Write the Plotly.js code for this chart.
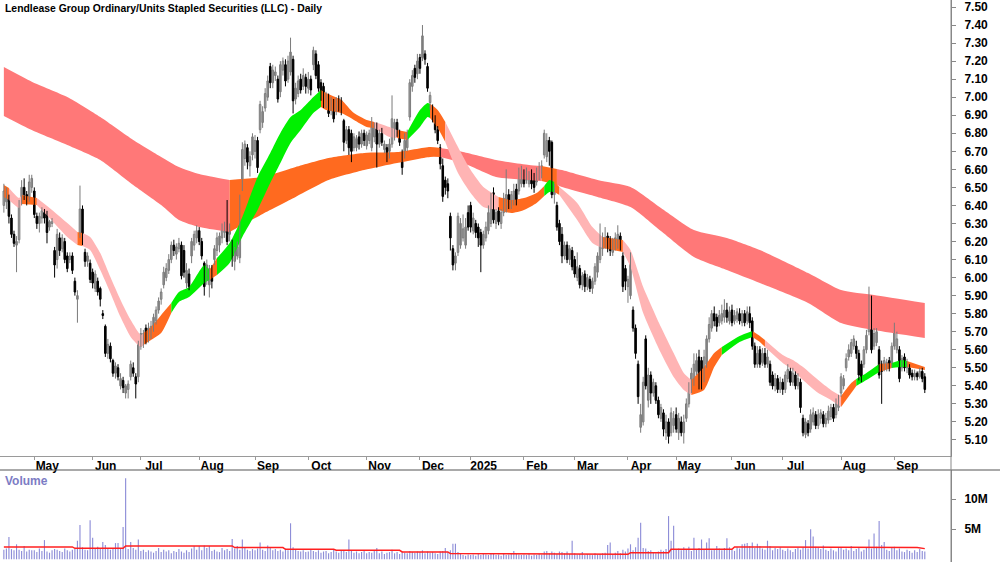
<!DOCTYPE html>
<html><head><meta charset="utf-8">
<script src="https://cdn.plot.ly/plotly-3.0.1.min.js"></script>
<style>html,body{margin:0;padding:0;background:#fff}#chart{width:1000px;height:562px}</style>
</head><body><div id="chart"></div>
<script>
// ---------- categories: trading days ----------
const startDate = '2024-04-12';
const endDate = '2025-09-17';
const holidays = ['2024-04-25','2024-06-10','2024-12-25','2024-12-26','2025-01-01','2025-01-27','2025-04-18','2025-04-21','2025-04-25','2025-06-09'];
const monthNames = ['Jan','Feb','Mar','Apr','May','Jun','Jul','Aug','Sep','Oct','Nov','Dec'];
const title = 'Lendlease Group Ordinary/Units Stapled Securities (LLC) - Daily';

// ---------- candles [open, high, low, close] by month ----------
const apr24 = [[6.40,6.52,6.36,6.48],[6.42,6.50,6.38,6.47],[6.44,6.46,6.30,6.34],[6.33,6.35,6.22,6.24],[6.24,6.26,6.17,6.19],[6.18,6.23,6.03,6.20],[6.21,6.43,6.19,6.41],[6.42,6.54,6.40,6.50],[6.50,6.55,6.43,6.46],[6.46,6.48,6.40,6.42],[6.44,6.57,6.42,6.53],[6.50,6.57,6.47,6.55]];
const may24 = [[6.48,6.50,6.33,6.35],[6.34,6.36,6.27,6.30],[6.30,6.36,6.25,6.34],[6.33,6.39,6.30,6.37],[6.36,6.38,6.30,6.33],[6.36,6.37,6.19,6.25],[6.28,6.32,6.26,6.31],[6.30,6.33,6.28,6.31],[6.15,6.17,6.00,6.07],[6.10,6.27,6.05,6.24],[6.22,6.25,6.12,6.15],[6.16,6.24,6.14,6.22],[6.20,6.22,6.08,6.10],[6.12,6.14,6.03,6.05],[6.10,6.14,6.08,6.12],[6.12,6.14,6.02,6.04],[5.98,6.00,5.90,5.92],[5.88,5.93,5.75,5.90],[6.25,6.51,6.22,6.38],[6.38,6.40,6.18,6.20],[6.14,6.16,6.06,6.09],[6.09,6.14,6.06,6.12],[6.08,6.10,5.97,5.99]];
const jun24 = [[6.03,6.05,5.94,5.97],[5.94,6.04,5.92,6.02],[5.98,6.00,5.90,5.92],[5.94,5.95,5.84,5.88],[5.80,5.82,5.77,5.79],[5.73,5.74,5.56,5.58],[5.58,5.66,5.55,5.63],[5.62,5.64,5.53,5.55],[5.54,5.55,5.45,5.47],[5.47,5.53,5.44,5.51],[5.50,5.52,5.43,5.45],[5.40,5.47,5.38,5.44],[5.43,5.45,5.36,5.39],[5.36,5.41,5.33,5.40],[5.38,5.43,5.33,5.41],[5.45,5.54,5.43,5.52],[5.50,5.53,5.45,5.47],[5.45,5.47,5.33,5.41],[5.45,5.65,5.42,5.63]];
const jul24 = [[5.62,5.72,5.60,5.69],[5.64,5.71,5.61,5.69],[5.72,5.74,5.63,5.66],[5.66,5.75,5.64,5.72],[5.68,5.76,5.66,5.73],[5.72,5.80,5.70,5.78],[5.76,5.84,5.74,5.82],[5.82,5.89,5.80,5.87],[5.88,5.94,5.85,5.92],[5.96,6.06,5.94,6.03],[6.00,6.08,5.98,6.05],[6.04,6.13,6.02,6.10],[6.10,6.20,6.08,6.18],[6.18,6.21,6.12,6.15],[6.13,6.19,6.10,6.17],[6.16,6.22,6.14,6.19],[6.18,6.20,5.99,6.01],[6.15,6.18,6.00,6.03],[5.97,6.08,5.94,6.04],[6.02,6.05,5.93,5.95],[6.12,6.22,6.08,6.20],[6.18,6.26,6.15,6.24],[6.22,6.29,6.19,6.26]];
const aug24 = [[6.26,6.28,6.18,6.20],[6.20,6.22,6.10,6.12],[6.08,6.09,5.90,5.95],[6.00,6.10,5.96,6.07],[5.96,6.07,5.89,6.05],[6.04,6.07,5.94,5.98],[6.10,6.18,6.07,6.16],[6.15,6.25,6.12,6.22],[6.18,6.25,6.14,6.23],[6.22,6.30,6.19,6.27],[6.25,6.31,6.22,6.28],[6.34,6.43,6.18,6.20],[6.24,6.30,6.20,6.28],[6.19,6.21,6.06,6.12],[6.09,6.17,6.04,6.15],[6.12,6.20,6.10,6.17],[6.11,6.46,6.08,6.44],[6.50,6.75,6.48,6.71],[6.66,6.76,6.62,6.74],[6.72,6.74,6.60,6.64],[6.62,6.70,6.56,6.67],[6.68,6.80,6.65,6.78]];
const sep24 = [[6.70,6.79,6.66,6.76],[6.76,6.78,6.58,6.61],[6.82,6.98,6.80,6.96],[6.86,6.95,6.83,6.92],[6.94,7.05,6.92,7.02],[7.00,7.12,6.98,7.09],[7.17,7.19,7.05,7.08],[7.08,7.18,7.05,7.15],[7.12,7.17,7.09,7.14],[7.10,7.12,6.97,6.99],[7.03,7.20,7.00,7.18],[7.15,7.22,7.12,7.20],[7.18,7.21,7.06,7.09],[7.10,7.23,7.08,7.20],[7.14,7.33,7.12,7.25],[7.21,7.23,6.91,6.98],[6.99,7.08,6.96,7.05],[7.02,7.12,7.00,7.09],[7.10,7.13,7.02,7.04],[7.06,7.16,7.04,7.12],[7.11,7.13,7.02,7.06]];
const oct24 = [[7.05,7.14,7.02,7.10],[7.10,7.12,7.01,7.04],[7.18,7.28,7.15,7.26],[7.24,7.26,7.10,7.12],[7.18,7.20,7.03,7.05],[7.08,7.10,6.98,7.00],[7.06,7.08,6.94,6.96],[6.96,7.03,6.94,7.01],[7.00,7.02,6.89,6.91],[6.93,7.00,6.90,6.98],[6.97,6.99,6.86,6.88],[6.92,7.00,6.90,6.98],[6.99,7.01,6.92,6.94],[6.98,7.00,6.90,6.92],[6.87,6.88,6.70,6.75],[6.76,6.84,6.74,6.82],[6.82,6.84,6.68,6.72],[6.80,6.82,6.64,6.70],[6.72,6.80,6.70,6.78],[6.72,6.79,6.70,6.77],[6.78,6.81,6.71,6.74],[6.74,6.82,6.72,6.80],[6.80,6.82,6.73,6.76]];
const nov24 = [[6.73,6.81,6.71,6.79],[6.76,6.82,6.74,6.80],[6.72,6.89,6.70,6.85],[6.78,6.86,6.75,6.84],[6.84,6.86,6.61,6.74],[6.74,6.82,6.72,6.80],[6.80,6.83,6.73,6.75],[6.71,6.76,6.69,6.74],[6.72,6.74,6.64,6.67],[6.70,6.77,6.66,6.74],[6.74,7.01,6.72,6.88],[6.80,6.88,6.76,6.86],[6.86,6.88,6.78,6.80],[6.80,6.82,6.73,6.75],[6.69,6.71,6.57,6.61],[6.68,6.80,6.66,6.76],[6.72,6.82,6.70,6.80],[6.89,7.10,6.87,7.08],[7.06,7.15,7.03,7.12],[7.16,7.18,7.08,7.11],[7.13,7.24,7.10,7.20]];
const dec24 = [[7.22,7.24,7.13,7.16],[7.22,7.40,7.20,7.34],[7.24,7.26,7.18,7.21],[7.17,7.19,7.03,7.05],[6.97,7.03,6.93,7.01],[6.94,6.96,6.86,6.88],[6.88,6.90,6.80,6.82],[6.82,6.84,6.74,6.76],[6.72,6.74,6.60,6.63],[6.62,6.66,6.42,6.45],[6.54,6.56,6.46,6.50],[6.52,6.55,6.44,6.48],[6.34,6.36,6.15,6.22],[6.16,6.18,6.04,6.07],[6.08,6.14,6.04,6.12],[6.14,6.36,6.12,6.34],[6.18,6.33,6.16,6.30],[6.22,6.35,6.20,6.27],[6.18,6.33,6.16,6.28],[6.36,6.40,6.26,6.28]];
const jan25 = [[6.40,6.42,6.25,6.28],[6.26,6.36,6.24,6.33],[6.30,6.32,6.22,6.25],[6.28,6.30,6.17,6.22],[6.25,6.27,6.03,6.18],[6.18,6.26,6.16,6.24],[6.22,6.31,6.20,6.28],[6.26,6.40,6.24,6.36],[6.30,6.47,6.28,6.42],[6.47,6.50,6.30,6.32],[6.30,6.38,6.27,6.36],[6.37,6.39,6.29,6.31],[6.30,6.38,6.27,6.36],[6.36,6.47,6.34,6.44],[6.38,6.60,6.36,6.46],[6.46,6.49,6.38,6.40],[6.40,6.48,6.38,6.46],[6.42,6.52,6.40,6.48],[6.49,6.52,6.40,6.42],[6.48,6.61,6.46,6.58],[6.52,6.62,6.50,6.58]];
const feb25 = [[6.58,6.60,6.50,6.52],[6.54,6.61,6.52,6.59],[6.52,6.59,6.50,6.57],[6.58,6.60,6.49,6.52],[6.56,6.58,6.47,6.50],[6.53,6.61,6.51,6.58],[6.56,6.64,6.54,6.61],[6.58,6.65,6.55,6.62],[6.68,6.82,6.66,6.80],[6.67,6.80,6.64,6.76],[6.76,6.78,6.62,6.70],[6.75,6.76,6.44,6.46],[6.46,6.52,6.41,6.49],[6.40,6.42,6.26,6.28],[6.30,6.32,6.18,6.20],[6.24,6.28,6.08,6.12],[6.12,6.20,6.10,6.18],[6.18,6.20,6.08,6.10],[6.10,6.18,6.07,6.16],[6.15,6.17,6.04,6.06]];
const mar25 = [[6.10,6.12,6.00,6.02],[6.00,6.14,5.98,6.06],[6.05,6.07,5.94,5.96],[5.96,6.03,5.93,6.01],[6.02,6.04,5.92,5.95],[5.95,6.02,5.93,6.00],[5.99,6.01,5.92,5.94],[5.94,6.00,5.91,5.98],[5.98,6.08,5.96,6.06],[6.03,6.14,6.00,6.12],[6.10,6.30,6.08,6.19],[6.16,6.25,6.12,6.22],[6.18,6.28,6.16,6.22],[6.23,6.25,6.14,6.17],[6.21,6.23,6.12,6.15],[6.14,6.22,6.12,6.20],[6.18,6.25,6.15,6.22],[6.18,6.29,6.16,6.24],[6.23,6.25,6.15,6.18],[6.12,6.14,5.92,5.95],[6.05,6.07,5.93,5.98]];
const apr25 = [[5.95,6.01,5.86,5.99],[5.90,6.14,5.88,6.12],[5.82,5.84,5.70,5.72],[5.72,5.74,5.55,5.58],[5.52,5.54,5.30,5.34],[5.17,5.30,5.14,5.24],[5.20,5.45,5.18,5.42],[5.66,5.68,5.38,5.40],[5.32,5.50,5.28,5.46],[5.46,5.48,5.30,5.36],[5.36,5.44,5.34,5.42],[5.40,5.42,5.30,5.32],[5.32,5.34,5.22,5.24],[5.22,5.30,5.20,5.28],[5.25,5.27,5.12,5.16],[5.14,5.24,5.10,5.20],[5.20,5.22,5.08,5.12],[5.14,5.28,5.12,5.25],[5.18,5.26,5.14,5.22]];
const may25 = [[5.24,5.28,5.14,5.16],[5.14,5.25,5.10,5.22],[5.20,5.23,5.12,5.14],[5.14,5.24,5.08,5.20],[5.22,5.33,5.20,5.30],[5.30,5.42,5.28,5.40],[5.38,5.50,5.36,5.47],[5.42,5.58,5.40,5.52],[5.48,5.58,5.46,5.54],[5.56,5.60,5.38,5.42],[5.54,5.56,5.38,5.40],[5.44,5.60,5.42,5.56],[5.52,5.68,5.50,5.66],[5.66,5.78,5.64,5.74],[5.72,5.82,5.70,5.80],[5.80,5.84,5.73,5.76],[5.78,5.80,5.70,5.73],[5.75,5.82,5.73,5.79],[5.76,5.85,5.74,5.80],[5.78,5.88,5.75,5.82],[5.82,5.86,5.75,5.78],[5.76,5.84,5.74,5.81]];
const jun25 = [[5.82,5.85,5.73,5.75],[5.76,5.82,5.74,5.79],[5.77,5.83,5.75,5.81],[5.80,5.83,5.74,5.76],[5.75,5.82,5.73,5.80],[5.80,5.82,5.73,5.75],[5.76,5.84,5.74,5.81],[5.80,5.84,5.72,5.75],[5.76,5.78,5.60,5.62],[5.62,5.64,5.50,5.52],[5.52,5.62,5.50,5.58],[5.60,5.62,5.50,5.52],[5.53,5.61,5.51,5.58],[5.58,5.61,5.50,5.52],[5.52,5.60,5.50,5.56],[5.52,5.54,5.40,5.42],[5.46,5.48,5.38,5.40],[5.40,5.47,5.37,5.44],[5.44,5.46,5.36,5.38],[5.38,5.45,5.36,5.42]];
const jul25 = [[5.42,5.44,5.35,5.38],[5.38,5.48,5.36,5.46],[5.44,5.52,5.42,5.49],[5.48,5.50,5.40,5.42],[5.42,5.50,5.40,5.47],[5.46,5.48,5.38,5.40],[5.40,5.47,5.38,5.44],[5.42,5.44,5.25,5.28],[5.22,5.24,5.12,5.14],[5.13,5.22,5.11,5.20],[5.19,5.21,5.12,5.14],[5.16,5.27,5.14,5.24],[5.20,5.28,5.18,5.25],[5.24,5.26,5.16,5.18],[5.18,5.27,5.16,5.24],[5.22,5.27,5.19,5.25],[5.24,5.26,5.17,5.19],[5.19,5.25,5.17,5.22],[5.21,5.29,5.19,5.26],[5.23,5.30,5.21,5.28],[5.28,5.30,5.20,5.22],[5.24,5.33,5.22,5.30],[5.28,5.35,5.26,5.32]];
const aug25 = [[5.36,5.47,5.34,5.45],[5.40,5.46,5.38,5.44],[5.50,5.58,5.48,5.55],[5.56,5.63,5.54,5.60],[5.58,5.66,5.56,5.64],[5.62,5.68,5.60,5.66],[5.62,5.65,5.55,5.58],[5.58,5.60,5.43,5.46],[5.52,5.54,5.42,5.44],[5.52,5.62,5.50,5.60],[5.60,5.71,5.58,5.68],[5.70,5.95,5.68,5.90],[5.88,5.90,5.58,5.60],[5.62,5.72,5.60,5.69],[5.64,5.72,5.62,5.70],[5.60,5.62,5.44,5.46],[5.52,5.54,5.30,5.48],[5.50,5.56,5.48,5.54],[5.50,5.55,5.48,5.53],[5.54,5.56,5.48,5.50],[5.52,5.64,5.50,5.62]];
const sep25 = [[5.62,5.75,5.60,5.72],[5.60,5.70,5.58,5.66],[5.60,5.62,5.42,5.44],[5.50,5.57,5.48,5.55],[5.56,5.58,5.48,5.50],[5.50,5.55,5.47,5.53],[5.50,5.52,5.44,5.46],[5.47,5.49,5.43,5.45],[5.45,5.49,5.43,5.47],[5.47,5.48,5.43,5.45],[5.45,5.50,5.44,5.48],[5.48,5.50,5.42,5.44],[5.45,5.47,5.36,5.38]];

// ---------- volume (millions) by month ----------
const volApr24 = [1.6,1.8,3.7,1.7,1.5,2.5,1.6,1.4,2.2,1.3,1.6,1.5];
const volMay24 = [1.5,1.2,1.8,1.4,3.2,1.3,1.1,1.5,1.7,1.6,1.4,1.2,1.8,1.5,1.3,1.6,1.7,3.1,5.7,2.0,1.6,1.5,6.5];
const volJun24 = [3.6,1.9,2.1,1.7,2.9,2.4,1.8,1.6,1.9,2.7,2.7,1.8,5.4,13.5,1.7,2.9,1.9,1.6,3.3];
const volJul24 = [1.4,1.6,1.2,1.5,1.3,1.1,1.4,1.9,1.2,1.6,1.3,1.5,1.0,1.4,1.2,1.7,1.3,1.1,1.5,1.2,1.8,2.2,1.6];
const volAug24 = [2.2,1.5,2.3,1.9,2.2,1.4,1.6,1.3,1.2,1.9,1.5,1.7,1.4,3.4,1.8,2.2,1.6,3.3,2.0,1.6,1.4,1.7];
const volSep24 = [1.5,1.8,2.8,1.6,1.4,2.3,1.9,1.5,1.7,1.4,1.6,1.3,1.8,1.5,6.0,2.0,1.6,1.4,1.3,1.5,1.2];
const volOct24 = [1.3,1.6,1.4,1.2,1.5,1.1,1.3,1.4,1.0,1.2,1.6,1.3,1.1,1.4,1.5,1.2,3.3,1.4,1.1,1.3,1.0,1.2,1.4];
const volNov24 = [1.0,1.2,1.1,1.5,1.9,1.0,1.3,0.9,1.1,1.2,1.6,1.0,1.2,0.9,1.3,1.1,1.0,1.4,1.2,1.1,1.3];
const volDec24 = [1.2,1.5,1.0,1.3,1.1,1.2,1.0,0.9,1.3,1.4,1.9,1.2,1.5,2.6,2.6,1.2,0.9,0.7,0.6,0.8];
const volJan25 = [0.7,0.8,0.6,0.9,0.7,1.0,0.8,0.7,0.9,1.0,0.7,0.8,0.6,0.9,0.7,0.8,1.0,1.4,0.9,0.8,0.7];
const volFeb25 = [0.8,0.7,0.9,0.6,0.8,0.7,0.9,0.8,1.3,1.4,1.0,1.3,1.1,0.9,1.3,1.2,1.0,1.3,0.9,3.1];
const volMar25 = [1.0,0.8,0.9,1.2,0.7,0.9,0.8,0.7,1.0,0.8,0.9,1.0,1.1,2.4,2.8,0.9,1.1,1.4,1.0,1.6,1.3];
const volApr25 = [1.8,2.5,1.5,2.0,3.6,6.1,1.9,1.8,1.4,1.5,1.2,1.0,1.3,1.6,1.4,1.7,7.2,3.1,5.6];
const volMay25 = [1.6,1.8,1.5,2.0,1.7,2.1,1.4,3.6,1.6,1.9,3.3,1.7,2.8,3.5,1.5,1.6,2.2,1.8,1.5,1.9,3.5,2.0];
const volJun25 = [1.6,1.4,2.0,1.8,2.5,2.6,2.7,2.2,2.8,1.9,2.6,2.2,1.8,1.6,3.1,2.2,1.5,1.9,1.7,2.0];
const volJul25 = [1.6,1.4,1.8,1.5,1.2,1.7,1.9,1.6,2.0,3.2,1.8,5.0,3.8,2.1,1.9,1.7,2.3,1.6,1.4,1.8,1.5,1.3,1.9];
const volAug25 = [2.0,1.6,1.8,1.5,2.2,1.4,1.7,1.9,1.3,1.6,2.0,3.3,1.8,4.3,2.1,6.4,2.4,2.9,1.6,1.4,1.9];
const volSep25 = [2.1,1.5,1.8,1.3,1.2,1.6,1.4,1.1,1.5,1.2,1.7,1.4,1.3];

// volume moving average: [day index, millions]
const volAvg = [[0,2.06],[27,2.06],[28,1.83],[47,1.83],[48,2.22],[90,2.22],[91,1.95],[110,1.95],[111,1.67],[130,1.67],[131,1.5],[156,1.5],[157,1.22],[175,1.22],[176,0.95],[196,0.95],[197,0.83],[246,0.83],[247,1.11],[262,1.11],[263,1.67],[287,1.67],[288,2.06],[327,2.06],[328,1.95],[360,1.95],[363,1.78]];

// ---------- ribbons: [day index, upper, lower] ----------
const slowBand = [[0,7.167,6.896],[11,7.086,6.818],[25,7.001,6.735],[38,6.890,6.652],[51,6.763,6.513],[62,6.669,6.402],[69,6.613,6.319],[77,6.574,6.280],[89,6.541,6.253],[102,6.558,6.353],[115,6.613,6.447],[128,6.663,6.541],[142,6.691,6.596],[155,6.696,6.635],[168,6.724,6.669],[172,6.718,6.669],[181,6.696,6.635],[194,6.652,6.558],[207,6.624,6.541],[212,6.619,6.535],[218,6.602,6.513],[220,6.596,6.502],[234,6.541,6.447],[247,6.502,6.391],[259,6.386,6.258],[272,6.264,6.114],[285,6.220,6.042],[298,6.153,5.970],[317,6.025,5.859],[330,5.931,5.748],[343,5.903,5.709],[363,5.859,5.665]];
const slowStates = [[0,89,'down'],[89,172,'up'],[172,212,'down'],[212,218,'up'],[218,363,'down']];

const fastBand = [[0,6.513,6.447],[2,6.497,6.430],[6,6.441,6.386],[7,6.458,6.408],[13,6.441,6.402],[18,6.386,6.330],[25,6.303,6.225],[29,6.253,6.181],[31,6.247,6.175],[34,6.225,6.153],[38,6.136,6.042],[42,6.003,5.915],[46,5.876,5.781],[50,5.765,5.671],[54,5.682,5.615],[55,5.693,5.626],[58,5.726,5.654],[62,5.793,5.693],[66,5.859,5.804],[69,5.920,5.865],[73,5.948,5.892],[79,6.070,5.970],[81,6.042,5.987],[84,6.108,6.014],[89,6.192,6.081],[94,6.336,6.225],[100,6.558,6.375],[105,6.691,6.524],[109,6.802,6.635],[113,6.890,6.746],[117,6.929,6.818],[122,7.001,6.912],[125,7.040,6.946],[127,7.023,6.929],[133,6.985,6.912],[138,6.912,6.874],[143,6.874,6.835],[146,6.863,6.829],[152,6.835,6.779],[155,6.818,6.774],[159,6.807,6.763],[164,6.929,6.835],[167,6.968,6.890],[168,6.963,6.885],[171,6.929,6.829],[174,6.863,6.752],[179,6.724,6.580],[184,6.596,6.469],[189,6.502,6.391],[195,6.447,6.375],[200,6.430,6.358],[205,6.441,6.375],[210,6.469,6.414],[213,6.508,6.452],[215,6.541,6.475],[217,6.530,6.475],[219,6.502,6.458],[226,6.414,6.319],[232,6.280,6.192],[236,6.225,6.164],[244,6.208,6.142],[247,6.153,6.059],[252,5.948,5.804],[259,5.726,5.582],[264,5.582,5.449],[268,5.471,5.377],[271,5.432,5.349],[276,5.504,5.377],[280,5.582,5.504],[283,5.615,5.571],[290,5.676,5.643],[295,5.704,5.671],[298,5.676,5.643],[300,5.654,5.615],[307,5.571,5.527],[311,5.543,5.488],[315,5.504,5.432],[321,5.432,5.360],[326,5.377,5.322],[330,5.344,5.283],[334,5.416,5.360],[336,5.438,5.399],[340,5.471,5.432],[345,5.521,5.477],[350,5.527,5.499],[354,5.543,5.504],[356,5.538,5.504],[363,5.504,5.488]];
const fastStates = [[0,2,'mixed'],[2,7,'down'],[7,13,'mixed'],[13,29,'down'],[29,31,'mixed'],[31,55,'down'],[55,66,'mixed'],[66,81,'up'],[81,84,'mixed'],[84,125,'up'],[125,146,'mixed'],[146,155,'down'],[155,159,'mixed'],[159,168,'up'],[168,174,'mixed'],[174,195,'down'],[195,213,'mixed'],[213,217,'up'],[217,219,'mixed'],[219,236,'down'],[236,244,'mixed'],[244,271,'down'],[271,283,'mixed'],[283,295,'up'],[295,300,'mixed'],[300,330,'down'],[330,336,'mixed'],[336,345,'up'],[345,350,'mixed'],[350,356,'up'],[356,363,'mixed']];

// ---------- styles ----------
const slowColors = {down:'#FF7878', up:'#FF6A1F'};
const fastColors = {down:'#FFB4B4', up:'#00F000', mixed:'#FF6A1F'};
const upLine = '#7a7a7a', downLine = '#000000';
const FONT = '"Liberation Sans", Arial, Helvetica, sans-serif';

// ---------- build ----------
function tradingDays(s, e, hol) {
  const out = []; const d = new Date(s + 'T00:00:00Z'); const end = new Date(e + 'T00:00:00Z');
  while (d <= end) {
    const wd = d.getUTCDay(); const iso = d.toISOString().slice(0, 10);
    if (wd !== 0 && wd !== 6 && !hol.includes(iso)) out.push(iso);
    d.setUTCDate(d.getUTCDate() + 1);
  }
  return out;
}
const dates = tradingDays(startDate, endDate, holidays);
const candles = [].concat(apr24,may24,jun24,jul24,aug24,sep24,oct24,nov24,dec24,jan25,feb25,mar25,apr25,may25,jun25,jul25,aug25,sep25);
const volume = [].concat(volApr24,volMay24,volJun24,volJul24,volAug24,volSep24,volOct24,volNov24,volDec24,volJan25,volFeb25,volMar25,volApr25,volMay25,volJun25,volJul25,volAug25,volSep25);
const N = Math.min(dates.length, candles.length);
const idx = Array.from({length: N}, (_, i) => i);

const tickvals = [], ticktext = [];
for (let i = 1; i < N; i++) {
  if (dates[i].slice(5, 7) !== dates[i - 1].slice(5, 7)) {
    const m = +dates[i].slice(5, 7);
    tickvals.push(i);
    ticktext.push(m === 1 ? dates[i].slice(0, 4) : monthNames[m - 1]);
  }
}

function bandTraces(band, states, colors) {
  const out = [];
  states.forEach(([a, b, key]) => {
    const pts = band.filter(p => p[0] >= a && p[0] <= b);
    const col = colors[key];
    out.push({type:'scatter', mode:'lines', x: pts.map(p => p[0]), y: pts.map(p => p[2]),
      line:{width:0, color:col, shape:'spline', smoothing:0.6}, hoverinfo:'skip', showlegend:false});
    out.push({type:'scatter', mode:'lines', x: pts.map(p => p[0]), y: pts.map(p => p[1]),
      line:{width:0, color:col, shape:'spline', smoothing:0.6}, fill:'tonexty', fillcolor:col, hoverinfo:'skip', showlegend:false});
  });
  return out;
}

// candle pieces: wicks (high-low) as segmented lines, bodies as floating bars
function candleTraces() {
  const wick = {up:{x:[], y:[]}, down:{x:[], y:[]}};
  const body = {up:{x:[], base:[], h:[]}, down:{x:[], base:[], h:[]}};
  for (let i = 0; i < N; i++) {
    const [o, h, l, c] = candles[i];
    const k = c >= o ? 'up' : 'down';
    wick[k].x.push(i, i, null); wick[k].y.push(l, h, null);
    const lo = Math.min(o, c), hi = Math.max(o, c);
    body[k].x.push(i); body[k].base.push(lo); body[k].h.push(Math.max(hi - lo, 0.004));
  }
  const out = [];
  [['up', upLine], ['down', downLine]].forEach(([k, lc]) => {
    out.push({type:'scatter', mode:'lines', x: wick[k].x, y: wick[k].y, connectgaps:false,
      line:{color:lc, width:1}, hoverinfo:'skip', showlegend:false});
  });
  [['up', upLine, '#ffffff'], ['down', downLine, '#000000']].forEach(([k, lc, fc]) => {
    out.push({type:'bar', x: body[k].x, y: body[k].h, base: body[k].base, width:0.62,
      marker:{color:fc, line:{color:lc, width:1}}, hoverinfo:'skip', showlegend:false});
  });
  return out;
}

const traces = [];
bandTraces(slowBand, slowStates, slowColors).forEach(t => traces.push(t));
bandTraces(fastBand, fastStates, fastColors).forEach(t => traces.push(t));
candleTraces().forEach(t => traces.push(t));
traces.push({type:'bar', x: idx, y: volume.slice(0, N), xaxis:'x', yaxis:'y2', width:0.45,
  marker:{color:'#8E8ED8', line:{width:0}}, hoverinfo:'skip', showlegend:false});
traces.push({type:'scatter', mode:'lines', x: volAvg.map(p => p[0]), y: volAvg.map(p => p[1]), xaxis:'x', yaxis:'y2',
  line:{color:'#FF2020', width:1.5}, hoverinfo:'skip', showlegend:false});

const W = 1000, H = 562, R = 49;
const priceBottomPx = 456, volTopPx = 470;
const layout = {
  width: W, height: H, margin:{l:0, r:R, t:0, b:0},
  paper_bgcolor:'#ffffff', plot_bgcolor:'#ffffff', showlegend:false, hovermode:false,
  barmode:'overlay',
  font:{family: FONT, size:11, color:'#000'},
  xaxis:{range:[-1.52, 373.33], anchor:'y', showgrid:false, zeroline:false, showline:true, linecolor:'#9a9a9a', linewidth:1,
    ticks:'outside', ticklen:3, tickcolor:'#9a9a9a', tickvals, ticktext, ticklabelshift:13, ticklabelstandoff:-4,
    tickfont:{family:FONT, size:12, color:'#000', weight:'bold'}, fixedrange:true},
  yaxis:{domain:[(H - priceBottomPx) / H, 1], range:[5.011, 7.5388], side:'right', tick0:5.1, dtick:0.1, tickformat:'.2f',
    ticks:'outside', ticklen:4, tickcolor:'#888', showline:true, linecolor:'#888', showgrid:false, zeroline:false,
    ticklabelstandoff:6, tickfont:{family:FONT, size:12, color:'#000', weight:'bold'}, fixedrange:true},
  yaxis2:{domain:[0, (H - volTopPx) / H], range:[-0.45, 14.88], side:'right', anchor:'x', tickvals:[5, 10], ticktext:['5M', '10M'],
    ticks:'outside', ticklen:4, tickcolor:'#888', showline:true, linecolor:'#888', showgrid:false, zeroline:false,
    ticklabelstandoff:6, tickfont:{family:FONT, size:12, color:'#000', weight:'bold'}, fixedrange:true},
  shapes:[
    {type:'line', xref:'paper', yref:'paper', x0:0, x1:W / (W - R), y0:(H - volTopPx) / H, y1:(H - volTopPx) / H, line:{color:'#555', width:1}},
    {type:'line', xref:'paper', yref:'paper', x0:1, x1:1, y0:0, y1:1, line:{color:'#888', width:1}}
  ],
  annotations:[
    {xref:'paper', yref:'paper', x:0.003, y:1 - 1 / H, xanchor:'left', yanchor:'top', showarrow:false,
      text:'<b>' + title + '</b>', font:{family:FONT, size:10.4, color:'#000'}},
    {xref:'paper', yref:'paper', x:0.003, y:(H - 472) / H, xanchor:'left', yanchor:'top', showarrow:false,
      text:'<b>Volume</b>', font:{family:FONT, size:12, color:'#7C7CC4'}}
  ]
};
Plotly.newPlot('chart', traces, layout, {displayModeBar:false, staticPlot:true});
</script></body></html>
